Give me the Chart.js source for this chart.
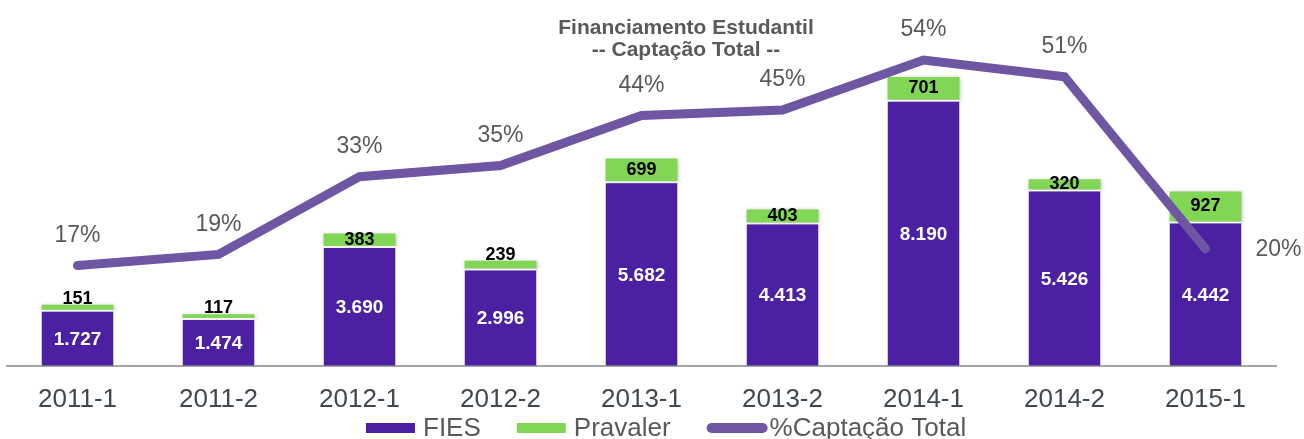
<!DOCTYPE html>
<html>
<head>
<meta charset="utf-8">
<script src="https://cdn.jsdelivr.net/npm/chart.js@4.4.1/dist/chart.umd.min.js"></script>
<style>
html,body{margin:0;padding:0;background:#fff;}
canvas{display:block;}
</style>
</head>
<body>
<canvas id="c" width="1304" height="439"></canvas>
<script>
const categories = ['2011-1','2011-2','2012-1','2012-2','2013-1','2013-2','2014-1','2014-2','2015-1'];
const fies = [1727,1474,3690,2996,5682,4413,8190,5426,4442];
const pravaler = [151,117,383,239,699,403,701,320,927];
const captacao = [17,19,33,35,44,45,54,51,20];
const titleLines = ['Financiamento Estudantil','-- Captação Total --'];

const FONT = "'Liberation Sans', Arial, sans-serif";
const C_FIES = '#4B20A2';
const C_PRAV = '#82D655';
const C_LINE = '#6E56A3';
const C_GRAY = '#595959';

function fmt(n){ return String(n).replace(/\B(?=(\d{3})+(?!\d))/g,'.'); }

const shadowPlugin = {
  id:'shadow',
  beforeDatasetDraw(chart,args){
    if(chart.data.datasets[args.index].type==='line') return;
    const ctx=chart.ctx; ctx.save();
    ctx.shadowColor='rgba(0,0,0,0.28)'; ctx.shadowBlur=4; ctx.shadowOffsetX=1; ctx.shadowOffsetY=1;
  },
  afterDatasetDraw(chart,args){
    if(chart.data.datasets[args.index].type==='line') return;
    chart.ctx.restore();
  }
};

const labelPlugin = {
  id:'labels',
  afterDatasetsDraw(chart){
    const ctx=chart.ctx; ctx.save();
    ctx.textAlign='center'; ctx.textBaseline='middle';
    const m0=chart.getDatasetMeta(0);
    ctx.font="bold 19px "+FONT; ctx.fillStyle='#fff';
    m0.data.forEach((el,i)=>{ ctx.fillText(fmt(fies[i]), el.x, (el.y+el.base)/2+2); });
    const m1=chart.getDatasetMeta(1);
    ctx.font="bold 18px "+FONT; ctx.fillStyle='#000';
    m1.data.forEach((el,i)=>{
      const h=el.base-el.y;
      const y = h<9 ? el.y-6 : (el.y+el.base)/2;
      ctx.fillText(fmt(pravaler[i]), el.x, y);
    });
    const m2=chart.getDatasetMeta(2);
    ctx.font="23px "+FONT; ctx.fillStyle=C_GRAY;
    m2.data.forEach((p,i)=>{
      if(i===m2.data.length-1){ ctx.textAlign='left'; ctx.fillText(captacao[i]+'%', p.x+50, p.y+1); ctx.textAlign='center'; }
      else ctx.fillText(captacao[i]+'%', p.x, p.y-30);
    });
    ctx.font="bold 21px "+FONT; ctx.fillStyle=C_GRAY;
    ctx.fillText(titleLines[0], 686, 28);
    ctx.fillText(titleLines[1], 686, 50);
    ctx.restore();
  }
};

const legendPlugin = {
  id:'customLegend',
  afterDraw(chart){
    const ctx=chart.ctx; ctx.save();
    ctx.font="26px "+FONT; ctx.textBaseline='alphabetic'; ctx.textAlign='left';
    let x=366; const yc=428, base=436;
    chart.data.datasets.forEach((ds,i)=>{
      ctx.fillStyle=ds.backgroundColor;
      if(ds.type==='line'){
        ctx.strokeStyle=ds.borderColor; ctx.lineWidth=10; ctx.lineCap='round';
        ctx.beginPath(); ctx.moveTo(x+5,yc); ctx.lineTo(x+56,yc); ctx.stroke();
        x+=63;
      } else {
        ctx.fillRect(x,yc-5,49,10);
        x+=57;
      }
      ctx.fillStyle=C_GRAY;
      ctx.fillText(ds.label,x,base);
      x+=ctx.measureText(ds.label).width+36;
    });
    ctx.restore();
  }
};

new Chart(document.getElementById('c'), {
  type:'bar',
  data:{
    labels:categories,
    datasets:[
      {label:'FIES', data:fies, backgroundColor:C_FIES, stack:'s', order:2,
       borderColor:'#ffffff', borderWidth:{top:2,left:0,right:0,bottom:0}, borderSkipped:false},
      {label:'Pravaler', data:pravaler, backgroundColor:C_PRAV, stack:'s', order:2, borderWidth:0},
      {type:'line', label:'%Captação Total', data:captacao, yAxisID:'y2', borderColor:C_LINE, backgroundColor:C_LINE,
       borderWidth:9, pointRadius:0, pointHoverRadius:0, tension:0, borderCapStyle:'round', borderJoinStyle:'miter', order:1}
    ]
  },
  options:{
    responsive:false, animation:false, devicePixelRatio:1,
    layout:{padding:{left:7,right:28,top:0,bottom:6}},
    datasets:{bar:{categoryPercentage:1, barPercentage:0.51}},
    plugins:{ tooltip:{enabled:false}, title:{display:false}, legend:{display:false} },
    scales:{
      x:{stacked:true, grid:{display:false, drawTicks:false},
         border:{display:true, color:'#A6A6A6', width:2},
         ticks:{color:'#404850', font:{size:26, family:FONT}, padding:18, autoSkip:false, maxRotation:0}},
      y:{stacked:true, display:false, min:0, max:11265},
      y2:{display:false, min:-1.05, max:64.8, position:'right'}
    }
  },
  plugins:[shadowPlugin, labelPlugin, legendPlugin]
});
</script>
</body>
</html>
